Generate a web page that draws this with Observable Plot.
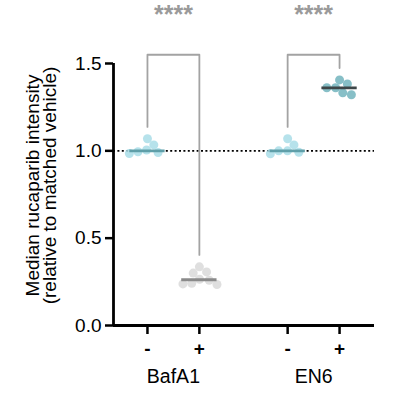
<!DOCTYPE html>
<html>
<head>
<meta charset="utf-8">
<script src="https://cdn.jsdelivr.net/npm/d3@7"></script>
<script src="https://cdn.jsdelivr.net/npm/@observablehq/plot@0.6"></script>
<style>
  html, body { margin: 0; padding: 0; background: #fff; }
</style>
</head>
<body>
<div id="chart"></div>
<script>
// ---- data ----
const drugs = ["BafA1", "EN6"];
const conditions = ["-", "+"];
const bafA1Vehicle = [1.069, 1.034, 1.005, 0.995, 0.990, 0.985];
const bafA1Treated = [0.336, 0.307, 0.300, 0.265, 0.259, 0.242, 0.238, 0.235];
const en6Vehicle = [1.069, 1.034, 1.000, 1.000, 0.992, 0.983];
const en6Treated = [1.406, 1.383, 1.361, 1.361, 1.332, 1.321];
const significance = ["****", "****"];
const yTicks = [0, 0.5, 1.0, 1.5];
const referenceValue = 1.0;
const yTitle = "Median rucaparib intensity\n(relative to matched vehicle)";

// ---- layout / style ----
const W = 398, H = 406;
const margin = {top: 63, right: 24, bottom: 81, left: 113};
const drugSpacing = 2.7;          // x units between drug groups (1 unit = -/+ gap)
const xDomain = [-0.654, 1 + drugSpacing + 0.673];
const yDomain = [0, 1.5];
const bracketTop = 1.55, bracketGap = 0.068, starsY = 1.78;
const medianHalf = 0.34;
const dotR = 4.5, swarmD = 8.8;
const font = "'Liberation Sans', Arial, sans-serif";

const seriesValues = [[bafA1Vehicle, bafA1Treated], [en6Vehicle, en6Treated]];
const fills = [["#a9dde7", "#d9d9d9"], ["#a9dde7", "#72b4bd"]];
const medianStroke = [["#5f9fa9", "#8a8a8a"], ["#5f9fa9", "#3e4749"]];

const pxPerX = (W - margin.left - margin.right) / (xDomain[1] - xDomain[0]);
const pxPerY = (H - margin.top - margin.bottom) / (yDomain[1] - yDomain[0]);
const xPos = (d, c) => d * drugSpacing + c;

// beeswarm offsets (pixel space) -> data units
function swarm(values) {
  const order = d3.range(values.length).sort((a, b) => values[b] - values[a]);
  const placed = [];
  const off = new Array(values.length).fill(0);
  for (const i of order) {
    const y = values[i] * pxPerY;
    const cands = [0];
    for (const p of placed) {
      const dy = Math.abs(p.y - y);
      if (dy < swarmD) {
        const dx = Math.sqrt(swarmD * swarmD - dy * dy);
        cands.push(p.x + dx, p.x - dx);
      }
    }
    const ok = cands.filter(cx => placed.every(p => (p.x - cx) ** 2 + (p.y - y) ** 2 >= swarmD * swarmD - 1e-6));
    ok.sort((a, b) => Math.abs(a) - Math.abs(b));
    const x = ok[0];
    placed.push({x, y});
    off[i] = x;
  }
  return off.map(o => o / pxPerX);
}

const groups = [];
drugs.forEach((drug, d) => conditions.forEach((cond, c) => {
  const vals = seriesValues[d][c];
  const offs = swarm(vals);
  groups.push({
    drug, cond, d, c,
    pos: xPos(d, c),
    median: d3.median(vals),
    max: d3.max(vals),
    points: vals.map((v, i) => ({x: xPos(d, c) + offs[i], y: v})),
    fill: fills[d][c],
    mstroke: medianStroke[d][c]
  });
}));

// brackets
const brackets = [];
drugs.forEach((drug, d) => {
  const g0 = groups.find(g => g.d === d && g.c === 0);
  const g1 = groups.find(g => g.d === d && g.c === 1);
  brackets.push(
    {drug, x: g0.pos, y: g0.max + bracketGap},
    {drug, x: g0.pos, y: bracketTop},
    {drug, x: g1.pos, y: bracketTop},
    {drug, x: g1.pos, y: g1.max + bracketGap}
  );
});

const tickPositions = groups.map(g => g.pos);
const tickLabel = v => groups.find(g => Math.abs(g.pos - v) < 1e-9).cond;

const marks = [
  Plot.ruleY([referenceValue], {stroke: "#000", strokeWidth: 1.6, strokeDasharray: "2,2.4"}),
  Plot.line(brackets, {x: "x", y: "y", z: "drug", stroke: "#a3a3a3", strokeWidth: 1.8}),
  Plot.text(significance, {
    x: (s, i) => xPos(i, 0.5), y: () => starsY,
    fill: "#9a9a9a", fontSize: 25, fontWeight: "bold", lineAnchor: "middle"
  }),
];
for (const g of groups) {
  marks.push(Plot.dot(g.points, {x: "x", y: "y", r: dotR, fill: g.fill, fillOpacity: 0.85, stroke: "none"}));
}
marks.push(Plot.ruleY(groups, {
  y: "median", x1: g => g.pos - medianHalf, x2: g => g.pos + medianHalf,
  stroke: g => g.mstroke, strokeWidth: 2.8
}));
marks.push(
  Plot.ruleX([xDomain[0]], {stroke: "#000", strokeWidth: 2.8}),
  Plot.ruleY([0], {stroke: "#000", strokeWidth: 2.8}),
  Plot.axisY({ticks: yTicks, tickFormat: d3.format(".1f"), tickSize: 8, tickPadding: 4,
              strokeWidth: 2.5, fontSize: 19, label: null}),
  Plot.axisX(tickPositions, {tickFormat: tickLabel, tickSize: 9, tickPadding: 7,
              strokeWidth: 2.5, fontSize: 19, fontWeight: "bold", label: null}),
  Plot.text(drugs, {x: (s, i) => xPos(i, 0.5), frameAnchor: "bottom", dy: 51,
              fontSize: 19.5, fill: "#000", lineAnchor: "middle"}),
  Plot.text([yTitle], {frameAnchor: "left", dx: -71.5, dy: -9, rotate: -90,
              fontSize: 19, lineHeight: 0.92, fill: "#000", lineAnchor: "middle", textAnchor: "middle"})
);

const chart = Plot.plot({
  width: W, height: H,
  marginTop: margin.top, marginRight: margin.right,
  marginBottom: margin.bottom, marginLeft: margin.left,
  x: {domain: xDomain, axis: null},
  y: {domain: yDomain, axis: null},
  color: {type: "identity"},
  style: {fontFamily: font, color: "#000", background: "#fff", overflow: "visible"},
  marks
});
document.getElementById("chart").appendChild(chart);
</script>
</body>
</html>
